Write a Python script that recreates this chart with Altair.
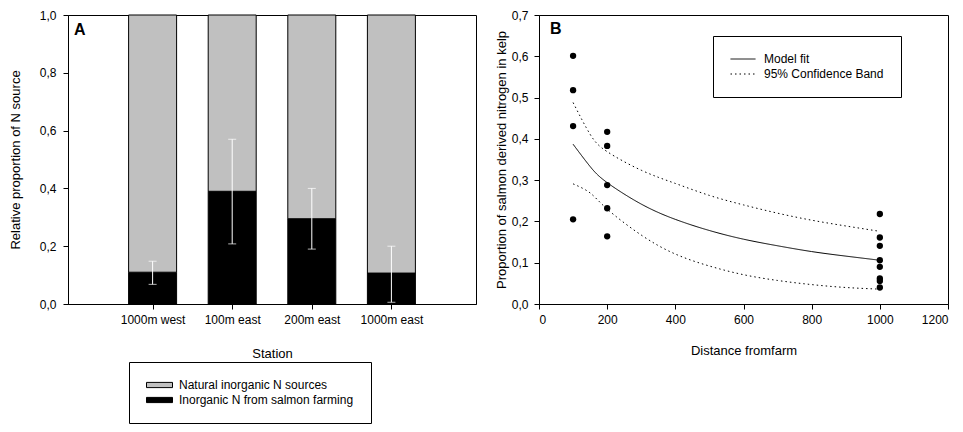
import json
import altair as alt
import pandas as pd

# ---------------- Panel A data ----------------
stations = ["1000m west", "100m east", "200m east", "1000m east"]
station_pos = [1, 2, 3, 4]
salmon_share = [0.110, 0.390, 0.295, 0.107]
err_low = [0.068, 0.208, 0.190, 0.006]
err_high = [0.148, 0.570, 0.400, 0.200]
source_names = ["Natural inorganic N sources", "Inorganic N from salmon farming"]
source_colors = ["#c0c0c0", "#000000"]
y_ticks_a = [0, 0.2, 0.4, 0.6, 0.8, 1.0]

# ---------------- Panel B data ----------------
obs_distance = [100, 100, 100, 100,
                200, 200, 200, 200, 200,
                1000, 1000, 1000, 1000, 1000, 1000, 1000, 1000]
obs_prop = [0.601, 0.518, 0.431, 0.205,
            0.417, 0.383, 0.288, 0.232, 0.164,
            0.218, 0.161, 0.141, 0.106, 0.090, 0.062, 0.056, 0.040]
curve_distance = [100, 150, 200, 300, 400, 500, 600, 700, 800, 900, 1000]
fit_prop = [0.387, 0.333, 0.294, 0.242, 0.205, 0.178, 0.157, 0.141, 0.127, 0.116, 0.106]
upper_prop = [0.488, 0.411, 0.369, 0.324, 0.292, 0.263, 0.240, 0.220, 0.203, 0.189, 0.176]
lower_prop = [0.291, 0.269, 0.230, 0.167, 0.121, 0.092, 0.071, 0.057, 0.047, 0.040, 0.036]
series_names = ["Model fit", "95% Confidence Band"]
y_ticks_b = [0, 0.1, 0.2, 0.3, 0.4, 0.5, 0.6, 0.7]
x_ticks_b = [0, 200, 400, 600, 800, 1000, 1200]

panel_letters = ["A", "B"]

FONT = "Liberation Sans"
comma_fmt = "replace(format(datum.value, '.1f'), '.', ',')"

# ---------------- Build tables ----------------
bar_rows = []
for s, p, v in zip(stations, station_pos, salmon_share):
    bar_rows.append(dict(station=s, pos=p, source=source_names[1], share=v, order=0))
    bar_rows.append(dict(station=s, pos=p, source=source_names[0], share=1 - v, order=1))
bars_df = pd.DataFrame(bar_rows)
err_df = pd.DataFrame(dict(station=stations, pos=station_pos, lo=err_low, hi=err_high))

obs_df = pd.DataFrame(dict(distance=obs_distance, prop=obs_prop))
curve_rows = []
for part, series, vals in [("fit", series_names[0], fit_prop),
                           ("upper", series_names[1], upper_prop),
                           ("lower", series_names[1], lower_prop)]:
    for d, v in zip(curve_distance, vals):
        curve_rows.append(dict(distance=d, prop=v, series=series, part=part))
curve_df = pd.DataFrame(curve_rows)

# ---------------- Panel A ----------------
W_A, W_B, H = 408, 409, 289

x_a = alt.X("pos:Q", scale=alt.Scale(domain=[0, 5], nice=False),
            axis=alt.Axis(values=station_pos,
                          labelExpr=f"{json.dumps(stations)}[datum.value - 1]",
                          title="Station", titlePadding=22, labelPadding=5))
y_a = alt.Y("share:Q", stack="zero", scale=alt.Scale(domain=[0, 1], nice=False),
            axis=alt.Axis(values=y_ticks_a, labelExpr=comma_fmt,
                          title="Relative proportion of N source",
                          titlePadding=17, labelPadding=7))

legend_a = alt.Legend(title=None, orient="none", legendX=61, legendY=347,
                      strokeColor="black", padding=17,
                      symbolType="M-1,-0.2H1V0.2H-1Z", symbolSize=676,
                      symbolStrokeColor="black", symbolStrokeWidth=1,
                      symbolOpacity=1, clipHeight=12, rowPadding=3,
                      labelOffset=6, labelFontSize=12, labelFont=FONT,
                      labelLimit=260, labelColor="black")

bars = alt.Chart(bars_df).mark_bar(size=48, stroke="black", strokeWidth=1).encode(
    x=x_a, y=y_a,
    fill=alt.Fill("source:N", scale=alt.Scale(domain=source_names, range=source_colors),
                  legend=legend_a),
    order=alt.Order("order:Q"),
)
err_rule = alt.Chart(err_df).mark_rule(color="white", strokeWidth=1).encode(
    x=alt.X("pos:Q"), y=alt.Y("lo:Q"), y2="hi:Q")
err_caps = alt.Chart(err_df).transform_fold(["lo", "hi"], as_=["end", "val"]).mark_tick(
    color="white", size=8, thickness=1, orient="horizontal").encode(
    x=alt.X("pos:Q"), y=alt.Y("val:Q"))
letter_a = alt.Chart(pd.DataFrame({"letter": [panel_letters[0]]})).mark_text(
    fontSize=16, fontWeight="bold", font=FONT, align="left", baseline="alphabetic",
    color="black").encode(x=alt.value(6), y=alt.value(19.5), text="letter:N")

panel_a = alt.layer(bars, err_rule, err_caps, letter_a).properties(width=W_A, height=H)

# ---------------- Panel B ----------------
x_b = alt.X("distance:Q", scale=alt.Scale(domain=[0, 1200], nice=False),
            axis=alt.Axis(values=x_ticks_b, format="d", title="Distance fromfarm",
                          titlePadding=19, labelPadding=5))
y_b = alt.Y("prop:Q", scale=alt.Scale(domain=[0, 0.7], nice=False),
            axis=alt.Axis(values=y_ticks_b, labelExpr=comma_fmt,
                          title="Proportion of salmon derived nitrogen in kelp",
                          titlePadding=3, labelPadding=6))

legend_b = alt.Legend(title=None, orient="none", legendX=174, legendY=21,
                      strokeColor="black", fillColor="white", padding=17,
                      symbolType="stroke", symbolSize=625,
                      symbolStrokeColor="black", symbolStrokeWidth=1,
                      clipHeight=12, rowPadding=3, labelOffset=8,
                      labelFontSize=12, labelFont=FONT, labelColor="black")

lines = alt.Chart(curve_df).mark_line(color="black", strokeWidth=1, interpolate="natural").encode(
    x=x_b, y=y_b,
    strokeDash=alt.StrokeDash("series:N",
                              scale=alt.Scale(domain=series_names, range=[[1, 0], [1.5, 3]]),
                              legend=legend_b),
    detail="part:N",
)
points = alt.Chart(obs_df).mark_circle(size=40, color="black", opacity=1).encode(x=x_b, y=y_b)
letter_b = alt.Chart(pd.DataFrame({"letter": [panel_letters[1]]})).mark_text(
    fontSize=16, fontWeight="bold", font=FONT, align="left", baseline="alphabetic",
    color="black").encode(x=alt.value(11), y=alt.value(18.5), text="letter:N")

panel_b = alt.layer(lines, points, letter_b).properties(width=W_B, height=H)

chart = alt.hconcat(panel_a, panel_b, spacing=63, bounds="flush").resolve_legend(
    fill="independent", strokeDash="independent"
).properties(padding=0).configure_axis(
    labelFont=FONT, labelFontSize=12, labelColor="black",
    titleFont=FONT, titleFontSize=13, titleFontWeight="normal", titleColor="black",
    domainColor="black", tickColor="black", tickSize=5, grid=False,
).configure_view(stroke="black", strokeWidth=1)

chart.save("out.html", embed_options={"renderer": "svg", "actions": False})
